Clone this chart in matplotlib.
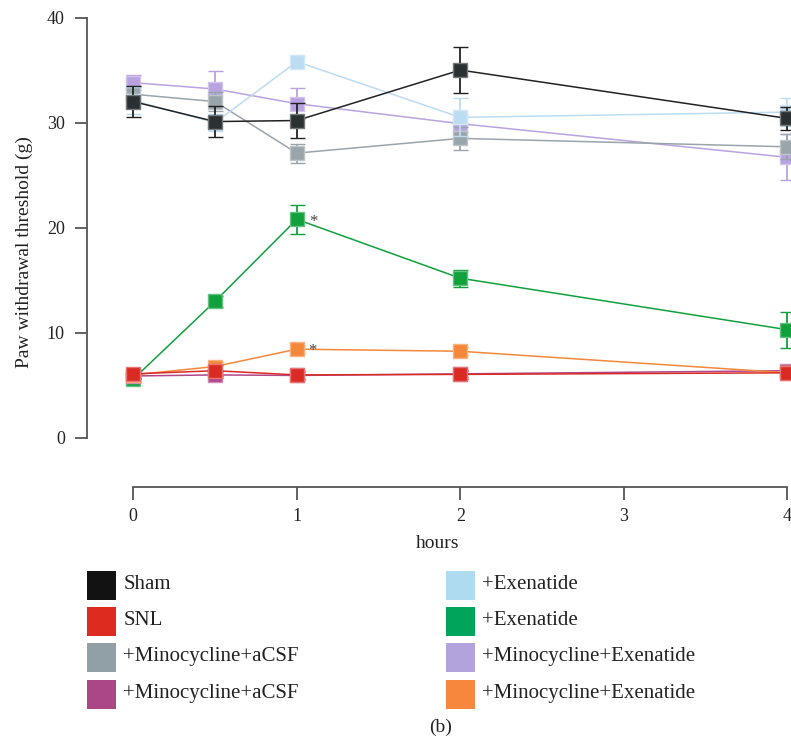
import matplotlib
matplotlib.use('Agg')
import matplotlib.pyplot as plt
from matplotlib.patches import Rectangle
from matplotlib.colors import to_rgb

plt.rcParams['font.family'] = ['Liberation Serif', 'DejaVu Serif']

# time points (hours)
hours = [0, 0.5, 1, 2, 4]

labels = ['Sham', 'SNL', '+Minocycline+aCSF', '+Minocycline+aCSF',
          '+Exenatide', '+Exenatide', '+Minocycline+Exenatide', '+Minocycline+Exenatide']

# paw withdrawal threshold (g), mean and error
sham = [32.0, 30.1, 30.2, 35.0, 30.4]
sham_err = [1.5, 1.5, 1.7, 2.15, 1.1]
snl = [6.1, 6.4, 6.0, 6.05, 6.2]
snl_err = [0.4, 0.5, 0.4, 0.4, 0.4]
mino_acsf_a = [32.7, 32.0, 27.1, 28.5, 27.7]
mino_acsf_a_err = [0.8, 0.9, 0.9, 1.1, 1.2]
mino_acsf_b = [5.9, 6.0, 5.95, 6.1, 6.4]
mino_acsf_b_err = [0.3, 0.3, 0.3, 0.3, 0.3]
exen_a = [32.1, 30.0, 35.8, 30.5, 31.0]
exen_a_err = [1.3, 0.8, 0.5, 1.8, 1.3]
exen_b = [5.6, 13.0, 20.8, 15.2, 10.3]
exen_b_err = [0.3, 0.5, 1.4, 0.8, 1.7]
mino_exen_a = [33.8, 33.2, 31.8, 29.9, 26.7]
mino_exen_a_err = [0.7, 1.7, 1.5, 0.8, 2.2]
mino_exen_b = [6.0, 6.8, 8.45, 8.25, 6.2]
mino_exen_b_err = [0.4, 0.4, 0.4, 0.4, 0.4]

means = [sham, snl, mino_acsf_a, mino_acsf_b, exen_a, exen_b, mino_exen_a, mino_exen_b]
errs = [sham_err, snl_err, mino_acsf_a_err, mino_acsf_b_err,
        exen_a_err, exen_b_err, mino_exen_a_err, mino_exen_b_err]

plot_colors = ['#2b3133', '#d92b24', '#9aa5ab', '#b0478a',
               '#bcdcf2', '#10a03c', '#b8a3e0', '#f4883a']
legend_colors = ['#121212', '#dd2c1f', '#919fa6', '#ac4787',
                 '#aedbf0', '#00a45a', '#b3a3dd', '#f7873c']
zorders = [8, 12, 6, 10, 7, 9, 5, 11]


def lighten(c, f=0.35):
    r, g, b = to_rgb(c)
    return (r + (1 - r) * f, g + (1 - g) * f, b + (1 - b) * f)


fig = plt.figure(figsize=(7.91, 7.42), dpi=100)
ax = fig.add_axes([87 / 791, 1 - 487 / 742, (787.3 - 87) / 791, (487 - 17.5) / 742])

for y, e, c, z in zip(means, errs, plot_colors, zorders):
    line_c = '#222222' if c == '#2b3133' else c
    eb = ax.errorbar(hours, y, yerr=e, color=line_c, ecolor=line_c, lw=1.1,
                     elinewidth=1.3, capsize=5.4, capthick=1.3,
                     marker='s', markersize=10.5, markerfacecolor=c,
                     markeredgecolor=lighten(c), markeredgewidth=1.0,
                     zorder=z)
    # let markers at the axis end spill over
    for part in [eb[0]] + list(eb[1]) + list(eb[2]):
        part.set_clip_on(False)

# significance marks at 1 h
ax.annotate('*', (1, exen_b[2]), xytext=(9, -2), textcoords='offset points',
            fontsize=12, color='#444444', ha='left', va='center', zorder=20)
ax.annotate('*', (1, mino_exen_b[2]), xytext=(8, -1), textcoords='offset points',
            fontsize=12, color='#444444', ha='left', va='center', zorder=20)

ax.set_xlim(-(133.3 - 87) / 163.5, 4)
ax.set_ylim(-(487 - 438) / 10.51, 40)
ax.set_xticks([0, 1, 2, 3, 4])
ax.set_yticks([0, 10, 20, 30, 40])
ax.spines['top'].set_visible(False)
ax.spines['right'].set_visible(False)
ax.spines['left'].set_bounds(0, 40)
ax.spines['bottom'].set_bounds(0, 4)
for s in ['left', 'bottom']:
    ax.spines[s].set_color('#555555')
    ax.spines[s].set_linewidth(1.3)
ax.tick_params(axis='both', colors='#555555', labelcolor='#222222',
               length=9, width=1.3, labelsize=13)
ax.tick_params(axis='y', pad=7)
ax.tick_params(axis='x', pad=6)
ax.set_xlabel('hours', fontsize=14, color='#222222', labelpad=7)
ax.set_ylabel('Paw withdrawal threshold (g)', fontsize=14, color='#222222', labelpad=10)
ax.patch.set_visible(False)

# legend in two columns
W, H = 791, 742
for i, (lab, c) in enumerate(zip(labels, legend_colors)):
    col, row = divmod(i, 4)
    x0 = [87.3, 446][col]
    y0 = 571 + row * 36.2
    fig.patches.append(Rectangle((x0 / W, 1 - (y0 + 29) / H), 29 / W, 29 / H,
                                 transform=fig.transFigure, facecolor=c, edgecolor='none'))
    fig.text((x0 + 36) / W, 1 - (y0 + 13.5) / H, lab, fontsize=15,
             color='#222222', ha='left', va='center')

fig.text(441 / W, 1 - 727 / H, '(b)', fontsize=14, color='#222222', ha='center', va='center')

fig.savefig('out.png', dpi=100, facecolor='white')
